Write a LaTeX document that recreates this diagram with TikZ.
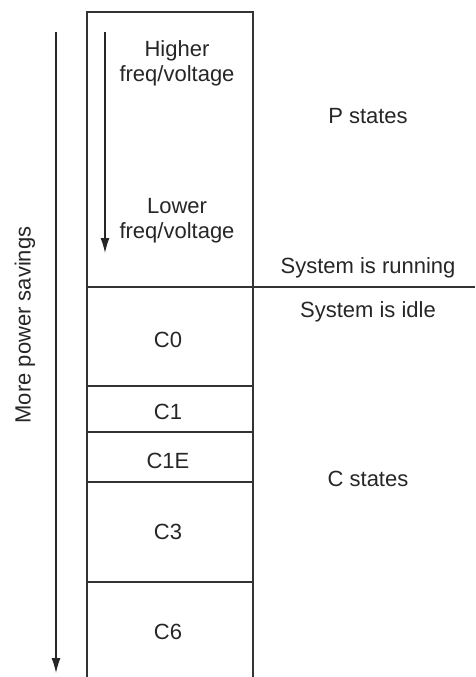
\documentclass[tikz,border=0pt]{standalone}
\usepackage{fontspec}
\setmainfont{Liberation Sans}
\usetikzlibrary{arrows.meta}
\tikzset{
  lbl/.style={font=\fontsize{22}{25}\selectfont, align=center, inner sep=0pt,
              text=black!85},
  rul/.style={draw=black!80, line width=1.2pt},
  arc/.style={-{Latex[length=15pt, width=9pt]}, line width=1.2pt, black!85}
}

\begin{document}
\begin{tikzpicture}[x=1pt, y=-1pt]
  \useasboundingbox (0,0) rectangle (475,677);
  % column of states, open at the bottom
  \draw[rul] (87,677) -- (87,12) -- (253,12) -- (253,677);
  \draw[rul] (87,287) -- (475,287);
  \foreach \y in {386,432,482,582}
    \draw[rul] (87,\y) -- (253,\y);
  % C states
  \foreach \t/\y [count=\i] in {C0/340,C1/412,C1E/461,C3/532,C6/632}
    \node[lbl] (c\i) at (168,\y) {\t};
  % P states
  \node[lbl] (hi) at (177,63) {Higher\\freq/voltage};
  \node[lbl] (lo) at (177,221) {Lower\\freq/voltage};
  \coordinate (ptop) at (105,32);
  \coordinate (pbot) at (105,253);
  \draw[arc] (ptop) -- (pbot);
  % right side
  \node[lbl, anchor=base] (pst) at (368,123) {P states};
  \node[lbl, anchor=base] (run) at (368,273) {System is running};
  \node[lbl, anchor=base] (idle) at (368,317) {System is idle};
  \node[lbl, anchor=base] (cst) at (368,486) {C states};
  % power savings
  \coordinate (stop) at (56,32);
  \coordinate (sbot) at (56,673);
  \draw[arc] (stop) -- (sbot);
  \node[lbl, rotate=90] (save) at (25,325) {More power savings};
\end{tikzpicture}
\end{document}
